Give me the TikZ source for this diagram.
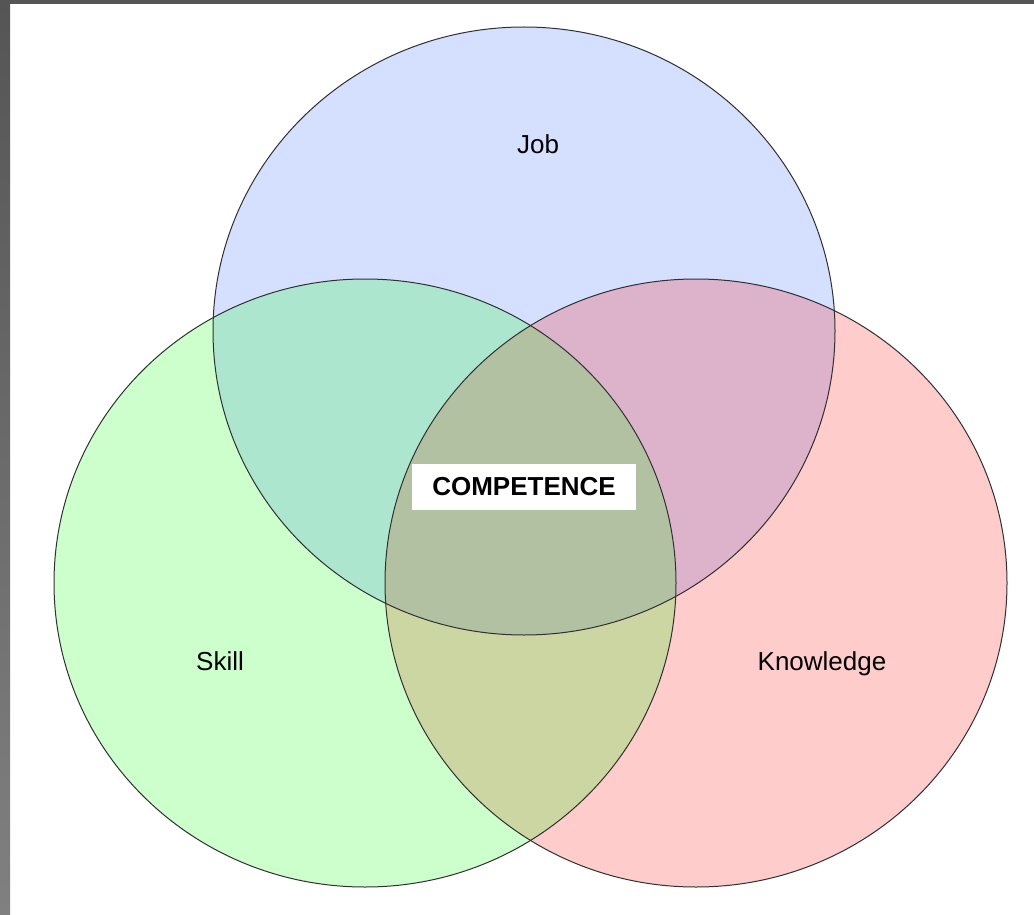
\documentclass[tikz,border=0pt]{standalone}
\usepackage{fontspec}
\setmainfont{Liberation Sans}
\definecolor{jobc}{HTML}{D5DFFF}
\definecolor{skillc}{HTML}{CCFFCC}
\definecolor{knowc}{HTML}{FFCCCC}
\definecolor{jsc}{HTML}{ADE6CE}
\definecolor{jkc}{HTML}{DDB3CB}
\definecolor{skc}{HTML}{CCD6A3}
\definecolor{allc}{HTML}{B3C1A3}
\definecolor{frametop}{HTML}{555555}
\definecolor{framebot}{HTML}{808080}
\definecolor{edgec}{HTML}{303030}
\begin{document}
\begin{tikzpicture}[x=1pt,y=-1pt,
  lbl/.style={font=\fontsize{26}{30}\selectfont, inner sep=0pt, anchor=base},
  outline/.style={draw=edgec, line width=1pt}]
\useasboundingbox (0,0) rectangle (1034,915);
\fill[white] (0,0) rectangle (1034,915);
\shade[top color=frametop, bottom color=framebot] (0,0) rectangle (10,915);
\fill[frametop] (0,0) rectangle (1034,4);
% circles
\def\jobpath{(524,331) ellipse [x radius=311, y radius=304]}
\def\skillpath{(365,583) ellipse [x radius=311, y radius=304]}
\def\knowpath{(696,583) ellipse [x radius=311, y radius=304]}
\fill[jobc] \jobpath;
\fill[skillc] \skillpath;
\fill[knowc] \knowpath;
\begin{scope}
  \clip \jobpath;
  \fill[jsc] \skillpath;
  \fill[jkc] \knowpath;
\end{scope}
\begin{scope}
  \clip \skillpath;
  \fill[skc] \knowpath;
  \clip \knowpath;
  \fill[allc] \jobpath;
\end{scope}
\draw[outline] \jobpath;
\draw[outline] \skillpath;
\draw[outline] \knowpath;
% labels
\node[lbl] (job) at (538,154) {Job};
\node[lbl] (skill) at (220,670) {Skill};
\node[lbl] (know) at (822,670) {Knowledge};
\node[fill=white, minimum width=224pt, minimum height=46pt, inner sep=0pt,
  font=\fontsize{26}{30}\selectfont\bfseries] (comp) at (524,487) {COMPETENCE};
\end{tikzpicture}
\end{document}
